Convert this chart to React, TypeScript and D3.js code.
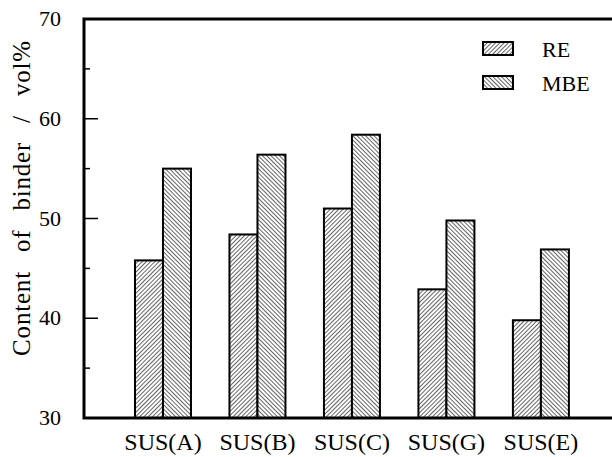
import React, { useEffect, useRef } from "react";
import * as d3 from "d3";

const categories = ["SUS(A)", "SUS(B)", "SUS(C)", "SUS(G)", "SUS(E)"];
const reValues = [45.8, 48.4, 51.0, 42.9, 39.8];
const mbeValues = [55.0, 56.4, 58.4, 49.8, 46.9];
const seriesNames = ["RE", "MBE"];
const yTicks = [30, 40, 50, 60, 70];
const yMinorTicks = [35, 45, 55, 65];

const App = () => {
  const ref = useRef<SVGSVGElement>(null);

  useEffect(() => {
    const svg = d3.select(ref.current);
    svg.selectAll("*").remove();

    const left = 84, top = 19, bottom = 418, right = 625;
    const font = "Liberation Serif";

    // categories sit at 1..5 on a linear axis
    const xScale = d3.scaleLinear().domain([0.164, 5.89]).range([left, right]);
    const yScale = d3.scaleLinear().domain([30, 70]).range([bottom, top]);
    const barW = 28;

    const defs = svg.append("defs");
    const hatch = (id, angle) => {
      const p = defs.append("pattern")
        .attr("id", id)
        .attr("patternUnits", "userSpaceOnUse")
        .attr("width", 3)
        .attr("height", 3)
        .attr("patternTransform", `rotate(${angle})`);
      p.append("rect").attr("width", 3).attr("height", 3).attr("fill", "white");
      p.append("line")
        .attr("x1", 0).attr("y1", 0).attr("x2", 0).attr("y2", 3)
        .attr("stroke", "#222").attr("stroke-width", 1.4);
    };
    hatch("hatchRE", 45);
    hatch("hatchMBE", -45);
    const fills = ["url(#hatchRE)", "url(#hatchMBE)"];

    // bars
    const g = svg.append("g");
    [reValues, mbeValues].forEach((vals, s) => {
      g.selectAll(".bar" + s)
        .data(vals)
        .join("rect")
        .attr("class", "bar" + s)
        .attr("x", (d, i) => xScale(i + 1) + (s === 0 ? -barW : 0))
        .attr("y", d => yScale(d))
        .attr("width", barW)
        .attr("height", d => bottom - yScale(d))
        .attr("fill", fills[s])
        .attr("stroke", "black")
        .attr("stroke-width", 2);
    });

    // frame
    svg.append("rect")
      .attr("x", left).attr("y", top)
      .attr("width", right - left).attr("height", bottom - top)
      .attr("fill", "none").attr("stroke", "black").attr("stroke-width", 3);

    // y ticks (inward)
    svg.selectAll(".ytick").data(yTicks).join("line")
      .attr("x1", left).attr("x2", left + 14)
      .attr("y1", d => yScale(d)).attr("y2", d => yScale(d))
      .attr("stroke", "black").attr("stroke-width", 1.5);
    svg.selectAll(".yminor").data(yMinorTicks).join("line")
      .attr("x1", left).attr("x2", left + 6)
      .attr("y1", d => yScale(d)).attr("y2", d => yScale(d))
      .attr("stroke", "black").attr("stroke-width", 1.5);

    svg.selectAll(".ylab").data(yTicks).join("text")
      .attr("x", left - 23)
      .attr("y", d => yScale(d) + 7)
      .attr("text-anchor", "end")
      .attr("font-family", font).attr("font-size", 22)
      .text(d => d);

    svg.selectAll(".xlab").data(categories).join("text")
      .attr("x", (d, i) => xScale(i + 1))
      .attr("y", 450)
      .attr("text-anchor", "middle")
      .attr("font-family", font).attr("font-size", 24)
      .text(d => d);

    svg.append("text")
      .attr("transform", `translate(30, 198) rotate(-90)`)
      .attr("text-anchor", "middle")
      .attr("font-family", font).attr("font-size", 25)
      .attr("word-spacing", 12)
      .attr("letter-spacing", 0.8)
      .text("Content of binder / vol%");

    // legend
    const legend = svg.append("g").attr("transform", "translate(483, 42)");
    seriesNames.forEach((name, i) => {
      legend.append("rect")
        .attr("x", 0).attr("y", i * 34)
        .attr("width", 30).attr("height", 13)
        .attr("fill", fills[i]).attr("stroke", "black").attr("stroke-width", 2);
      legend.append("text")
        .attr("x", 59).attr("y", i * 34 + 15)
        .attr("font-family", font).attr("font-size", 22)
        .text(name);
    });
  }, []);

  return (
    <div style={{ position: "absolute", left: 0, top: 0 }}>
      <svg ref={ref} width={612} height={457} style={{ display: "block", background: "white" }} />
    </div>
  );
};

export default App;
